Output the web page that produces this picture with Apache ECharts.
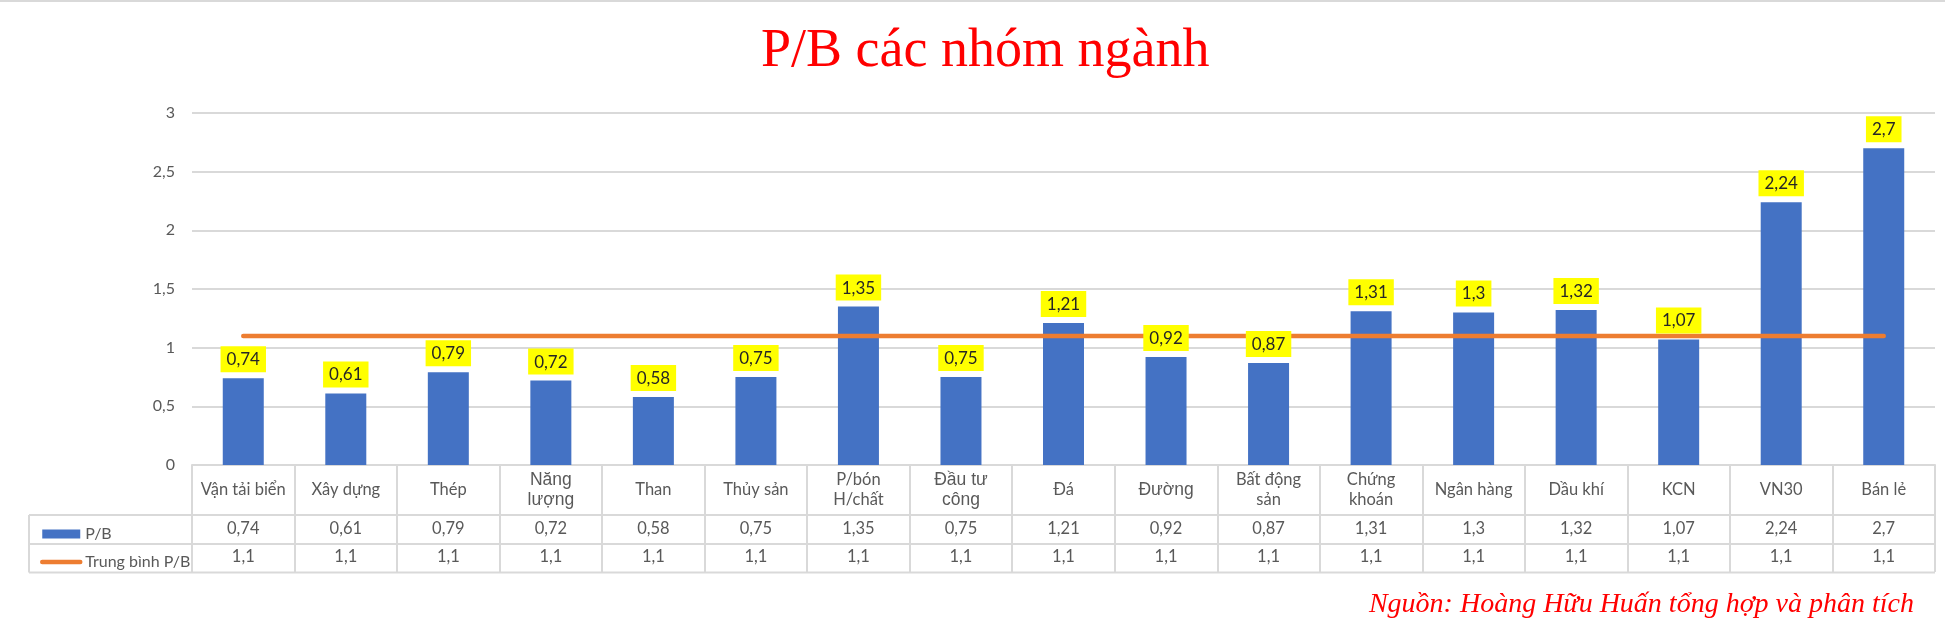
<!DOCTYPE html>
<html>
<head>
<meta charset="utf-8">
<title>P/B các nhóm ngành</title>
<script src="https://cdn.jsdelivr.net/npm/echarts@6/dist/echarts.min.js"></script>
<style>
  html, body { margin: 0; padding: 0; background: #fff; }
  #chart { width: 1945px; height: 631px; }
</style>
</head>
<body>
<div id="chart"></div>
<script>
// dữ liệu
var categories = ['Vận tải biển', 'Xây dựng', 'Thép', 'Năng\nlượng', 'Than', 'Thủy sản', 'P/bón\nH/chất',
    'Đầu tư\ncông', 'Đá', 'Đường', 'Bất động\nsản', 'Chứng\nkhoán', 'Ngân hàng', 'Dầu khí', 'KCN', 'VN30', 'Bán lẻ'];
var pbValues = [0.74, 0.61, 0.79, 0.72, 0.58, 0.75, 1.35, 0.75, 1.21, 0.92, 0.87, 1.31, 1.3, 1.32, 1.07, 2.24, 2.7];
var avgValues = [1.1, 1.1, 1.1, 1.1, 1.1, 1.1, 1.1, 1.1, 1.1, 1.1, 1.1, 1.1, 1.1, 1.1, 1.1, 1.1, 1.1];
var yTicks = [0, 0.5, 1, 1.5, 2, 2.5, 3];
// mấy nhãn dùng font khác trong bản gốc
var altFontCats = ['Năng\nlượng', 'Đầu tư\ncông', 'Đường'];

var FONT = 'Lato';
var GREY = '#595959';
var BORDER = '#d9d9d9';

function vn(v) {
    return String(v).replace('.', ',');
}

var myChart = echarts.init(document.getElementById('chart'));

var option = {
    animation: false,
    textStyle: { fontFamily: FONT },
    title: [{
        text: 'P/B các nhóm ngành',
        left: 756,
        top: 20,
        textStyle: { fontFamily: 'Liberation Serif', fontSize: 54, fontWeight: 'normal', color: '#ff0000' }
    }, {
        text: 'Nguồn: Hoàng Hữu Huấn tổng hợp và phân tích',
        right: 26,
        top: 586,
        textStyle: { fontFamily: 'Liberation Serif', fontSize: 28, fontStyle: 'italic', fontWeight: 'normal', color: '#ff0000' }
    }],
    legend: {
        orient: 'vertical',
        left: 35,
        top: 519,
        itemWidth: 38,
        itemHeight: 9,
        itemGap: 8,
        textStyle: { fontFamily: FONT, fontSize: 16, color: GREY, lineHeight: 20 },
        data: [
            { name: 'P/B', icon: 'rect' },
            {
                name: 'Trung bình P/B',
                itemStyle: { opacity: 0 },
                lineStyle: { width: 4.5, cap: 'round' }
            }
        ]
    },
    grid: {
        left: 192,
        right: 10,
        top: 113,
        bottom: 166
    },
    xAxis: [{
        // hàng tên ngành
        type: 'category',
        data: categories,
        position: 'bottom',
        offset: 0,
        axisLine: { lineStyle: { color: BORDER, width: 2 } },
        axisTick: { show: true, interval: 0, length: 107, lineStyle: { color: BORDER, width: 2 } },
        axisLabel: {
            interval: 0,
            margin: 25,
            verticalAlign: 'middle',
            fontSize: 16.5,
            lineHeight: 20,
            color: GREY,
            formatter: function (value) {
                if (altFontCats.indexOf(value) >= 0) {
                    return '{alt|' + value + '}';
                }
                return value;
            },
            rich: {
                alt: { fontFamily: 'Liberation Sans', fontSize: 17.5, lineHeight: 20, color: GREY }
            }
        }
    }, {
        // hàng P/B
        type: 'category',
        data: categories,
        position: 'bottom',
        offset: 0,
        axisLine: { show: false },
        axisTick: { show: false },
        axisLabel: {
            interval: 0,
            margin: 64,
            verticalAlign: 'middle',
            fontSize: 16.5,
            color: GREY,
            formatter: function (value, index) {
                return vn(pbValues[index]);
            }
        }
    }, {
        // hàng trung bình
        type: 'category',
        data: categories,
        position: 'bottom',
        offset: 0,
        axisLine: { show: false },
        axisTick: { show: false },
        axisLabel: {
            interval: 0,
            margin: 92,
            verticalAlign: 'middle',
            fontSize: 16.5,
            color: GREY,
            formatter: function (value, index) {
                return vn(avgValues[index]);
            }
        }
    }],
    yAxis: {
        type: 'value',
        min: yTicks[0],
        max: yTicks[yTicks.length - 1],
        interval: 0.5,
        axisLine: { show: false },
        axisTick: { show: false },
        axisLabel: { margin: 17, fontSize: 16, color: GREY, formatter: vn },
        splitLine: { lineStyle: { color: BORDER, width: 2 } }
    },
    series: [{
        name: 'P/B',
        type: 'bar',
        xAxisIndex: 0,
        barWidth: 41,
        z: 2,
        data: pbValues,
        itemStyle: { color: '#4472C4' }
    }, {
        name: 'Trung bình P/B',
        type: 'line',
        xAxisIndex: 0,
        data: avgValues,
        symbol: 'none',
        z: 3,
        itemStyle: { color: '#ED7D31' },
        lineStyle: { color: '#ED7D31', width: 4.5, cap: 'round' }
    }, {
        // nhãn vàng nằm trên đường trung bình
        name: 'nhãn',
        type: 'bar',
        xAxisIndex: 0,
        barWidth: 41,
        barGap: '-100%',
        z: 4,
        silent: true,
        data: pbValues,
        itemStyle: { color: 'rgba(0,0,0,0)' },
        label: {
            show: true,
            position: 'top',
            distance: 6,
            backgroundColor: '#ffff00',
            padding: [5, 6, 4, 6],
            fontFamily: FONT,
            fontSize: 17,
            color: '#262626',
            formatter: function (p) { return vn(p.value); }
        }
    }],
    // khung bảng dữ liệu
    graphic: [
        { type: 'line', shape: { x1: 0, y1: 1, x2: 1945, y2: 1 }, style: { stroke: BORDER, lineWidth: 2 } },
        { type: 'line', shape: { x1: 29, y1: 515, x2: 1935, y2: 515 }, style: { stroke: BORDER, lineWidth: 2 } },
        { type: 'line', shape: { x1: 29, y1: 544, x2: 1935, y2: 544 }, style: { stroke: BORDER, lineWidth: 2 } },
        { type: 'line', shape: { x1: 29, y1: 572.5, x2: 1935, y2: 572.5 }, style: { stroke: BORDER, lineWidth: 2 } },
        { type: 'line', shape: { x1: 29, y1: 515, x2: 29, y2: 572.5 }, style: { stroke: BORDER, lineWidth: 2 } }
    ]
};

myChart.setOption(option);
</script>
</body>
</html>
